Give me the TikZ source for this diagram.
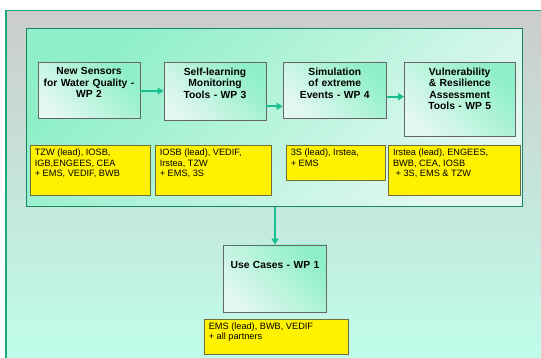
\documentclass[tikz,border=0pt]{standalone}
\usepackage{fontspec}
\setmainfont{Liberation Sans}
\usepackage{tikz}
\usetikzlibrary{positioning,arrows.meta}
\definecolor{frameline}{HTML}{1BA97C}
\definecolor{greytop}{HTML}{CCCCCC}
\definecolor{mintpale}{HTML}{BEFFEB}
\definecolor{mintdeep}{HTML}{8EEFC8}
\definecolor{mintlight}{HTML}{E2F8F0}
\definecolor{flowteal}{HTML}{19BE91}
\definecolor{partnerline}{HTML}{6E6E3C}
\tikzset{
  wpframe/.style={draw=frameline!80!black,line width=1.4pt,top color=mintdeep,bottom color=mintlight,shading angle=45,inner sep=0pt},
  wpbox/.style={draw=black!60,line width=0.8pt,top color=mintdeep,bottom color=mintlight,shading angle=-45,inner sep=0pt},
  wptitle/.style={inner sep=0pt,text width=112pt,align=center,font=\fontsize{10.3pt}{11.6pt}\selectfont\bfseries},
  partners/.style={draw=partnerline,line width=0.8pt,fill=yellow,inner sep=0pt},
  partnertext/.style={inner sep=0pt,align=left,font=\fontsize{9.2pt}{10.4pt}\selectfont},
  flow/.style={draw=flowteal,line width=2pt,-{Triangle[length=6pt,width=7pt]}}
}

\begin{document}
\begin{tikzpicture}[x=1pt,y=-1pt]
            \useasboundingbox (0,0) rectangle (541,358);
            \clip (0,0) rectangle (541,358);
            \fill [white] (0,0) rectangle (541,358);
            % outer frame runs off the page
            \draw [draw=frameline,line width=1.5pt,top color=greytop,bottom color=mintpale] (6.2,10.3) rectangle (570,372);
            \node [wpframe,minimum width=495.5pt,minimum height=178.4pt] (wps) at (274.5,117.5) {};
            % work packages
            \node [wpbox,minimum width=102pt,minimum height=55.8pt] (wp2) at (89,90.4) {};
            \node [wpbox,minimum width=102pt,minimum height=58pt] (wp3) at (215,91.5) {};
            \node [wpbox,minimum width=103.5pt,minimum height=55.8pt] (wp4) at (334.8,90.4) {};
            \node [wpbox,minimum width=110.6pt,minimum height=74.2pt] (wp5) at (459.7,99.6) {};
            \node [wptitle,below=5.3pt of wp2.north] (wp2t) {New Sensors\\for Water Quality -\\WP 2};
            \node [wptitle,below=5.3pt of wp3.north] (wp3t) {Self-learning\\Monitoring\\Tools - WP 3};
            \node [wptitle,below=5.3pt of wp4.north] (wp4t) {Simulation\\of extreme\\Events - WP 4};
            \node [wptitle,below=5.3pt of wp5.north] (wp5t) {Vulnerability\\\& Resilience\\Assessment\\Tools - WP 5};
            \draw [flow] ([yshift=-0.6pt]wp2.east) -- ([yshift=-0.6pt]wp2.east -| wp3.west);
            \draw [flow] ([yshift=-14.8pt]wp3.east) -- ([yshift=-14.8pt]wp3.east -| wp4.west);
            \draw [flow] ([yshift=-6.3pt]wp4.east) -- ([yshift=-6.3pt]wp4.east -| wp5.west);
            % partners
            \node [partners,minimum width=120.7pt,minimum height=50pt] (p2) at (90.35,170) {};
            \node [partners,minimum width=116pt,minimum height=50pt] (p3) at (213,170) {};
            \node [partners,minimum width=99pt,minimum height=35pt] (p4) at (335.5,162.5) {};
            \node [partners,minimum width=132.4pt,minimum height=50pt] (p5) at (454.5,170) {};
            \node [partnertext,below right=4.3pt and 5pt of p2.north west] (p2t) {TZW (lead), IOSB,\\IGB,ENGEES, CEA\\+ EMS, VEDIF, BWB};
            \node [partnertext,below right=4.3pt and 5pt of p3.north west] (p3t) {IOSB (lead), VEDIF,\\Irstea, TZW\\+ EMS, 3S};
            \node [partnertext,below right=4.3pt and 5pt of p4.north west] (p4t) {3S (lead), Irstea,\\+ EMS};
            \node [partnertext,below right=4.3pt and 5pt of p5.north west] (p5t) {Irstea (lead), ENGEES,\\BWB, CEA, IOSB\\\hspace*{2.6pt}+ 3S, EMS \& TZW};
            % use cases
            \node [wpbox,minimum width=103.4pt,minimum height=67.5pt] (uc) at (275,278.75) {};
            \node [wptitle,below=16.3pt of uc.north] (uct) {Use Cases - WP 1};
            \draw [flow] (wps.south -| uc.north) -- (uc.north);
            \node [partners,minimum width=144pt,minimum height=35.3pt] (p1) at (276,336.6) {};
            \node [partnertext,below right=3.8pt and 5pt of p1.north west] (p1t) {EMS (lead), BWB, VEDIF\\+ all partners};
        \end{tikzpicture}
\end{document}
